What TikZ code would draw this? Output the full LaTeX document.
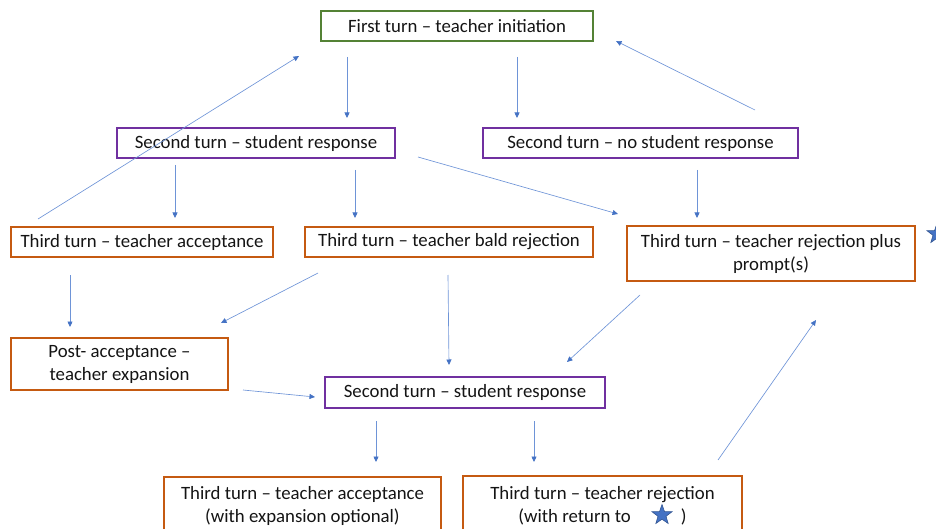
\documentclass[tikz,border=0pt]{standalone}
\usepackage{fontspec}
\setmainfont{Carlito}
\usetikzlibrary{shapes.geometric,arrows.meta}
\definecolor{arr}{RGB}{68,114,196}
\definecolor{arrline}{RGB}{110,148,215}
\definecolor{grn}{RGB}{84,130,53}
\definecolor{pur}{RGB}{112,48,160}
\definecolor{org}{RGB}{197,90,17}
\definecolor{txt}{RGB}{20,20,20}
\begin{document}
\begin{tikzpicture}[x=1pt,y=-1pt,
  box/.style={draw, line width=1.3pt, inner sep=0pt, align=center, text=txt,
    font=\fontsize{18.8}{23}\selectfont},
  gbox/.style={box, draw=grn},
  pbox/.style={box, draw=pur},
  obox/.style={box, draw=org},
  conn/.style={draw=arrline, line width=0.65pt,
    -{Triangle[length=5.5pt,width=5pt,color=arr]}},
  bluestar/.style={star, star points=5, star point ratio=2.5, minimum size=21pt,
    inner sep=0pt, fill=arr, draw=arr!75!black, line width=0.6pt}
]
\useasboundingbox (0,0) rectangle (936,529);
\clip (0,0) rectangle (936,529);

% boxes
\node[gbox, minimum width=272pt, minimum height=30pt] (first) at (457,26) {First turn -- teacher initiation};
\node[pbox, minimum width=278pt, minimum height=30pt] (sresp) at (256,143) {Second turn -- student response};
\node[pbox, minimum width=315pt, minimum height=30pt] (snoresp) at (640.5,143) {Second turn -- no student response};
\node[obox, minimum width=262pt, minimum height=30pt] (tacc) at (142,242) {Third turn -- teacher acceptance};
\node[obox, minimum width=288pt, minimum height=30pt] (tbald) at (449,242) {Third turn -- teacher bald rejection};
\node[obox, minimum width=288pt, minimum height=55pt] (tprompt) at (771,253.5) {Third turn -- teacher rejection plus\\prompt(s)};
\node[obox, minimum width=217pt, minimum height=52pt] (post) at (119.5,364) {Post- acceptance --\\teacher expansion};
\node[pbox, minimum width=280pt, minimum height=31pt] (sresp2) at (465,392.5) {Second turn -- student response};
\node[obox, minimum width=277pt, minimum height=58pt] (tacc2) at (302.5,506) {Third turn -- teacher acceptance\\(with expansion optional)};
\node[obox, minimum width=279pt, minimum height=59pt] (trej2) at (602.5,505.5) {Third turn -- teacher rejection\\(with return to\hspace{50pt})};

% stars
\node[bluestar] (star1) at (662,515) {};
\node[bluestar] (star2) at (937,234) {};

% connector end points
\coordinate (a1s) at (347,57);  \coordinate (a1e) at (347,118);
\coordinate (a2s) at (517,57);  \coordinate (a2e) at (517,118);
\coordinate (a3s) at (38,219);  \coordinate (a3e) at (299,56);
\coordinate (a4s) at (755,110); \coordinate (a4e) at (616,41);
\coordinate (a5s) at (175,165); \coordinate (a5e) at (175,218);
\coordinate (a6s) at (355,170); \coordinate (a6e) at (355,218);
\coordinate (a7s) at (418,157); \coordinate (a7e) at (618,214);
\coordinate (a8s) at (697,170); \coordinate (a8e) at (697,218);
\coordinate (a9s) at (70,275);  \coordinate (a9e) at (70,327);
\coordinate (a10s) at (318,273); \coordinate (a10e) at (221,323);
\coordinate (a11s) at (448,275); \coordinate (a11e) at (449,365);
\coordinate (a12s) at (640,295); \coordinate (a12e) at (567,362);
\coordinate (a13s) at (243,390); \coordinate (a13e) at (315,397);
\coordinate (a14s) at (376,421); \coordinate (a14e) at (376,462);
\coordinate (a15s) at (534,421); \coordinate (a15e) at (534,462);
\coordinate (a16s) at (718,460); \coordinate (a16e) at (816,320);

\foreach \i in {1,...,16} {\draw[conn] (a\i s) -- (a\i e);}
\end{tikzpicture}
\end{document}
